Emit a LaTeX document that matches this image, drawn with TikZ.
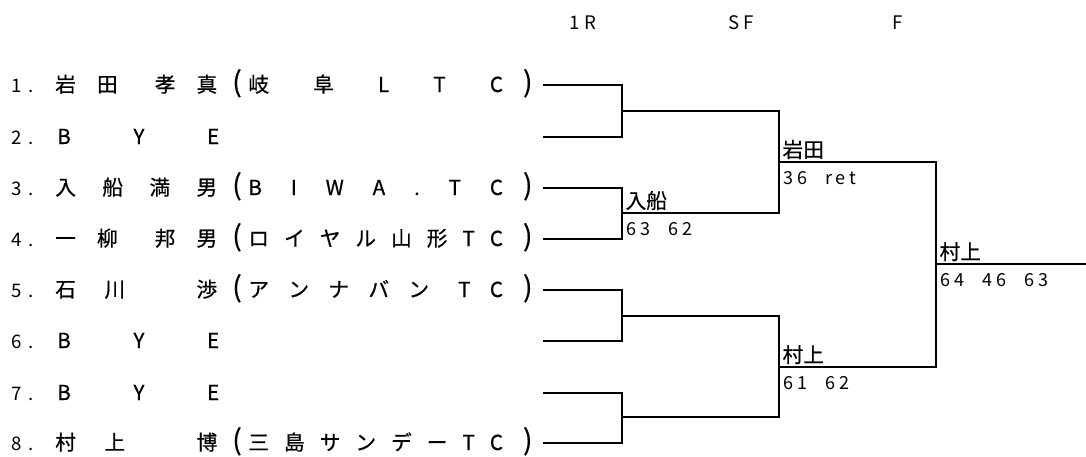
\documentclass[tikz,border=0pt]{standalone}
\usepackage{fontspec}
\setmainfont{Noto Sans CJK JP}
\usetikzlibrary{positioning}

\newcommand{\parL}{{\fontsize{21}{21}\selectfont(}}
\newcommand{\parR}{{\fontsize{21}{21}\selectfont)}}
\newcommand{\club}[1]{\parL\hspace{5pt}\makebox[191pt][s]{#1}\hspace{15pt}\parR}
\newcommand{\plname}[1]{\makebox[121.5pt][s]{#1}}

\begin{document}
\begin{tikzpicture}[x=0.75pt, y=-0.75pt,
        ln/.style={line width=1.5pt},
        hd/.style={inner sep=0pt, font=\fontsize{14}{16}\selectfont\addfontfeatures{LetterSpace=22}},
        no/.style={anchor=base west, inner sep=0pt, font=\fontsize{14}{16}\selectfont\addfontfeatures{LetterSpace=35}},
        nm/.style={anchor=base west, inner sep=0pt, font=\fontsize{15.5}{18}\selectfont\addfontfeatures{FakeBold=0.6}},
        wn/.style={inner sep=0pt, font=\fontsize{15.5}{18}\selectfont\addfontfeatures{FakeBold=0.4}},
        sc/.style={inner sep=0pt, font=\fontsize{13.5}{16}\selectfont\addfontfeatures{LetterSpace=22}},
        ]
      \useasboundingbox (0,0) rectangle (1086,457);

      \node[hd] (h1) at (583,23) {1R};
      \node[hd] (h2) at (741,23) {SF};
      \node[hd] (h3) at (898,23) {F};

      \node[no] (n1) at (11,92) {1.};
      \node[no] (n2) at (11,144) {2.};
      \node[no] (n3) at (11,195) {3.};
      \node[no] (n4) at (11,246) {4.};
      \node[no] (n5) at (11,297) {5.};
      \node[no] (n6) at (11,348) {6.};
      \node[no] (n7) at (11,400) {7.};
      \node[no] (n8) at (11,450) {8.};

      \node[nm] (a1) at (55,92) {\plname{岩\hfil 田\hfil\hskip 12pt 孝\hfil 真}};
      \node[nm] (a2) at (57,144) {\plname{B\hfil Y\hfil E}};
      \node[nm] (a3) at (55,195) {\plname{入\hfil 船\hfil 満\hfil 男}};
      \node[nm] (a4) at (55,246) {\plname{一\hfil 柳\hfil\hskip 12pt 邦\hfil 男}};
      \node[nm] (a5) at (55,297) {\plname{石\hfil 川\hskip 0pt plus 2.5fil 渉}};
      \node[nm] (a6) at (57,348) {\plname{B\hfil Y\hfil E}};
      \node[nm] (a7) at (57,400) {\plname{B\hfil Y\hfil E}};
      \node[nm] (a8) at (55,450) {\plname{村\hfil 上\hskip 0pt plus 2.5fil 博}};

      \node[nm] (c1) at (232,92) {\club{岐\hfil 阜\hfil L\hfil T\hfil C}};
      \node[nm] (c3) at (232,195) {\club{B\hfil I\hfil W\hfil A\hfil .\hfil T\hfil C}};
      \node[nm] (c4) at (232,246) {\club{ロ\hfil イ\hfil ヤ\hfil ル\hfil 山\hfil 形\hfil T\hfil C}};
      \node[nm] (c5) at (232,297) {\club{ア\hfil ン\hfil ナ\hfil バ\hfil ン\hskip 0pt plus 1.5fil T\hfil C}};
      \node[nm] (c8) at (232,450) {\club{三\hfil 島\hfil サ\hfil ン\hfil デ\hfil ー\hfil T\hfil C}};

      \coordinate (p1) at (543,85);
      \coordinate (p2) at (543,137);
      \coordinate (p3) at (543,188);
      \coordinate (p4) at (543,239);
      \coordinate (p5) at (543,290);
      \coordinate (p6) at (543,341);
      \coordinate (p7) at (543,393);
      \coordinate (p8) at (543,443);
      \coordinate (r1) at (622,111);
      \coordinate (r2) at (622,213);
      \coordinate (r3) at (622,316);
      \coordinate (r4) at (622,417);
      \coordinate (s1) at (779,162);
      \coordinate (s2) at (779,367);
      \coordinate (f1) at (936,264);
      \coordinate (f2) at (1086,264);

      \draw[ln] (p1) -| (r1) |- (p2);
      \draw[ln] (p3) -| (r2) |- (p4);
      \draw[ln] (p5) -| (r3) |- (p6);
      \draw[ln] (p7) -| (r4) |- (p8);
      \draw[ln] (r1) -| (s1) |- (r2);
      \draw[ln] (r3) -| (s2) |- (r4);
      \draw[ln] (s1) -| (f1) |- (s2);
      \draw[ln] (f1) -- (f2);

      \node[wn, above right=2pt and 2.5pt of r2] (w1) {入船};
      \node[sc, below right=7pt and 3pt of r2] (t1) {63\hspace{1em}62};
      \node[wn, above right=2pt and 2.5pt of s1] (w2) {岩田};
      \node[sc, below right=7pt and 3pt of s1] (t2) {36\hspace{1em}ret};
      \node[wn, above right=2pt and 2.5pt of s2] (w3) {村上};
      \node[sc, below right=7pt and 3pt of s2] (t3) {61\hspace{1em}62};
      \node[wn, above right=2pt and 2.5pt of f1] (w4) {村上};
      \node[sc, below right=7pt and 3pt of f1] (t4) {64\hspace{1em}46\hspace{1em}63};
    \end{tikzpicture}
\end{document}
